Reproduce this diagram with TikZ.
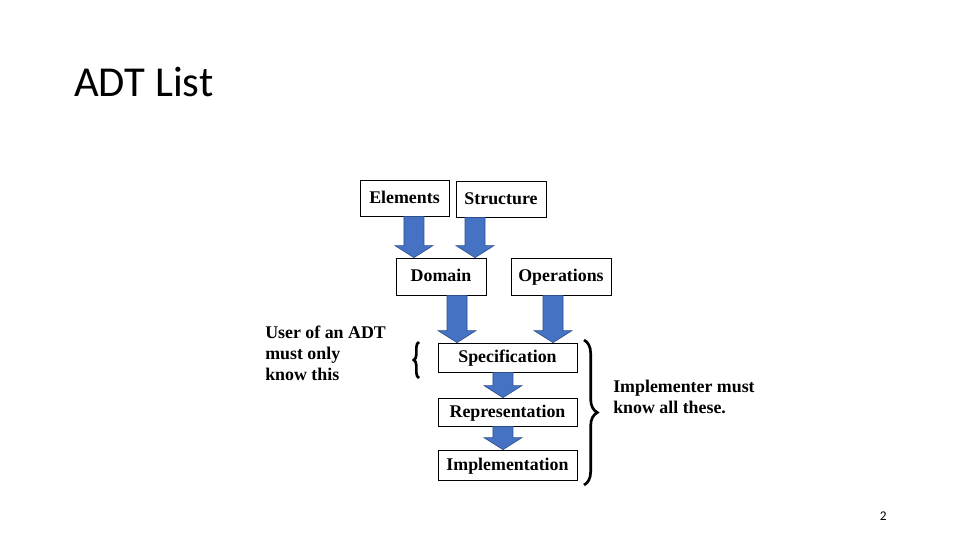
\documentclass[tikz,border=0pt]{standalone}
\usepackage{fontspec}
\setmainfont{Liberation Serif}
\newfontfamily\titlefont{Carlito}
\usetikzlibrary{calc,decorations.pathreplacing}

\definecolor{arrowblue}{RGB}{70,114,196}
\definecolor{arrowedge}{RGB}{47,82,143}

% vertical block arrow: starts at #1, tip at the height of #2
\newcommand{\blockarrow}[2]{%
  \filldraw[arrowblk] let \p1=(#1), \p2=(#2) in
    (\x1-7.5pt,\y1) -- (\x1-7.5pt,\y2+9pt) -- (\x1-14.25pt,\y2+9pt) -- (\x1,\y2)
    -- (\x1+14.25pt,\y2+9pt) -- (\x1+7.5pt,\y2+9pt) -- (\x1+7.5pt,\y1) -- cycle;}

\begin{document}
\begin{tikzpicture}[x=0.75pt,y=-0.75pt,
  box/.style={draw,line width=0.6pt,fill=white,inner sep=0pt,text height=9pt,text depth=1pt,
    font=\fontsize{13.4}{16}\selectfont\bfseries},
  arrowblk/.style={fill=arrowblue,draw=arrowedge,line width=0.5pt},
  note/.style={align=left,inner sep=0pt,font=\fontsize{13.4}{15.8}\selectfont\bfseries},
  bracket/.style={decorate,line width=2pt}]
\useasboundingbox (0,0) rectangle (960,540);

\node[anchor=base west,inner sep=0pt,font=\titlefont\fontsize{32}{38}\selectfont] (title) at (74,96) {ADT List};

\node[box,minimum width=66.75pt,minimum height=27pt] (elem) at (404.5,198) {Elements};
\node[box,minimum width=67.5pt,minimum height=27pt] (struc) at (501,199) {Structure};
\node[box,minimum width=67.5pt,minimum height=27.75pt] (dom) at (441,276.5) {Domain};
\node[box,minimum width=75pt,minimum height=27.75pt] (oper) at (561,276.5) {Operations};
\node[box,minimum width=104.25pt,minimum height=21.75pt] (spec) at (507.5,357.5) {Specification};
\node[box,minimum width=104.25pt,minimum height=21pt] (repr) at (507.5,412) {Representation};
\node[box,minimum width=104.25pt,minimum height=22.5pt] (impl) at (507.5,465) {Implementation};

\blockarrow{[xshift=7.1pt]elem.south}{dom.north}
\blockarrow{[xshift=-19.5pt]struc.south}{dom.north}
\blockarrow{[xshift=12pt]dom.south}{spec.north}
\blockarrow{[xshift=-6pt]oper.south}{spec.north}
\blockarrow{[xshift=-3.4pt]spec.south}{repr.north}
\blockarrow{[xshift=-3.4pt]repr.south}{impl.north}

\node[note,anchor=north west] (user) at (265,326) {User of an ADT\\must only\\know this};
\node[note,anchor=north west] (implr) at (613,380) {Implementer must\\know all these.};

\draw[bracket,decoration={brace,amplitude=4pt}] (419,378) -- (419,342);
\draw[bracket,decoration={brace,amplitude=10pt}] (584,340) -- (584,485);

\node[anchor=base east,inner sep=0pt,font=\titlefont\fontsize{10}{12}\selectfont] (pnum) at (887,520) {2};
\end{tikzpicture}
\end{document}
